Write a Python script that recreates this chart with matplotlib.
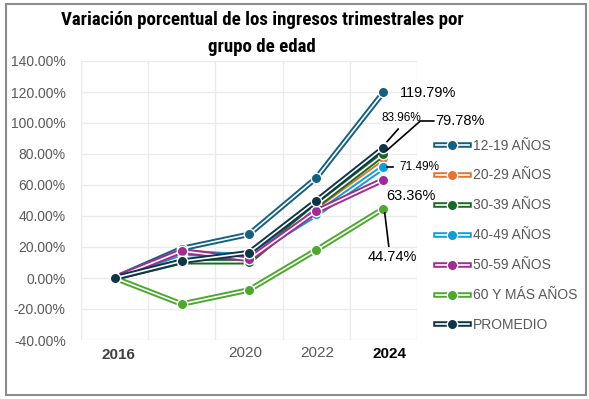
import matplotlib
matplotlib.use("Agg")
import matplotlib.pyplot as plt
from matplotlib.lines import Line2D
from matplotlib.legend_handler import HandlerTuple
from matplotlib.patches import Rectangle
import numpy as np

# valores (en %)
categorias = ["2016", "", "2020", "2022", "2024"]
series = ["12-19 AÑOS", "20-29 AÑOS", "30-39 AÑOS", "40-49 AÑOS",
          "50-59 AÑOS", "60 Y MÁS AÑOS", "PROMEDIO"]
v_12_19 = [0, 19.0, 28.2, 64.5, 119.79]
v_20_29 = [0, 17.0, 13.5, 46.0, 77.5]
v_30_39 = [0, 10.5, 10.5, 46.5, 79.78]
v_40_49 = [0, 16.0, 14.5, 41.0, 71.49]
v_50_59 = [0, 17.4, 12.0, 43.0, 63.36]
v_60_mas = [0, -16.8, -7.7, 18.0, 44.74]
v_prom = [0, 10.8, 16.3, 49.7, 83.96]
valores = [v_12_19, v_20_29, v_30_39, v_40_49, v_50_59, v_60_mas, v_prom]
colores = ["#156082", "#E97132", "#196B24", "#0F9ED5", "#A02B93", "#4EA72E", "#0E3548"]

fuente = ["Liberation Sans", "DejaVu Sans"]
fuente_titulo = ["Roboto Condensed", "Fira Sans Condensed", "Barlow Semi Condensed",
                 "PT Sans Narrow", "Archivo Narrow", "Liberation Sans", "DejaVu Sans"]

W, H = 589, 399
fig = plt.figure(figsize=(W / 100, H / 100), dpi=100)
ax = fig.add_axes([81 / W, 1 - 340 / H, (417 - 81) / W, (340 - 61) / H])

x = np.arange(len(categorias))
for i, (vals, c) in enumerate(zip(valores, colores)):
    z = 3 + i * 3
    ax.plot(x, vals, color=c, lw=4.0, solid_capstyle="round", zorder=z)
    ax.plot(x, vals, color="white", lw=1.2, zorder=z + 1)
    ax.plot(x, vals, ls="none", marker="o", ms=7.5, mfc=c, mec="white", mew=1.0, zorder=z + 2)

ax.set_xlim(-0.5, len(categorias) - 0.5)
ax.set_ylim(-40, 140)
ax.set_yticks(np.arange(-40, 141, 20))
ax.set_yticklabels(["{:.2f}%".format(t) for t in np.arange(-40, 141, 20)],
                   fontsize=10, color="#595959", family=fuente)
ax.tick_params(axis="y", length=0, pad=11)
ax.set_xticks([])
ax.set_xticks(np.arange(-0.5, len(categorias)), minor=True)
ax.tick_params(axis="x", which="minor", length=0)
ax.grid(True, axis="y", color="#EBEBEB", lw=1)
ax.grid(True, axis="x", which="minor", color="#EBEBEB", lw=1)
for s in ax.spines.values():
    s.set_visible(False)

# etiquetas del eje x (colocadas como en el original)
trans = ax.get_xaxis_transform()
ax.text(0.05, -0.055, categorias[0], transform=trans, ha="center", va="center",
        fontsize=11, fontweight="bold", color="#404040", family=fuente)
ax.text(1.94, -0.045, categorias[2], transform=trans, ha="center", va="center",
        fontsize=11, color="#595959", family=fuente)
ax.text(3.02, -0.045, categorias[3], transform=trans, ha="center", va="center",
        fontsize=11, color="#595959", family=fuente)
ax.text(4.09, -0.05, categorias[4], transform=trans, ha="center", va="center",
        fontsize=11, fontweight="bold", color="black", family=fuente)

# etiquetas de datos
lbl = dict(textcoords="figure pixels", family=fuente, color="black", va="center")
ax.annotate("{:.2f}%".format(v_12_19[4]), xy=(4, v_12_19[4]), xytext=(400, H - 93),
            fontsize=10.5, ha="left", **lbl)
ax.annotate("{:.2f}%".format(v_prom[4]), xy=(4, v_prom[4]), xytext=(381, H - 118),
            fontsize=8.5, ha="left", **lbl)
ax.plot([4.22, 4.055], [96.1, 88.0], color="black", lw=1.2, zorder=40)
ax.annotate("{:.2f}%".format(v_30_39[4]), xy=(4, v_30_39[4]), xytext=(435, H - 121),
            fontsize=10.5, ha="left", **lbl)
ax.plot([4.75, 4.55, 4.05], [101.3, 101.3, v_30_39[4] + 2.5], color="black", lw=1.2,
        zorder=40, clip_on=False)
ax.annotate("{:.2f}%".format(v_40_49[4]), xy=(4, v_40_49[4]), xytext=(399, H - 167),
            fontsize=8.5, ha="left", **lbl)
ax.plot([4.15, 4.05], [v_40_49[4], v_40_49[4]], color="black", lw=1.2, zorder=40)
ax.annotate("{:.2f}%".format(v_50_59[4]), xy=(4, v_50_59[4]), xytext=(386, H - 196),
            fontsize=10.5, ha="left", **lbl)
ax.annotate("{:.2f}%".format(v_60_mas[4]), xy=(4, v_60_mas[4]), xytext=(368, H - 257),
            fontsize=10.5, ha="left", **lbl)
ax.plot([4.08, 4.02], [20.5, 42.0], color="black", lw=1.2, zorder=40)

# leyenda con linea doble
handles = []
for c in colores:
    handles.append((Line2D([], [], color=c, lw=4.0),
                    Line2D([], [], color="white", lw=1.2),
                    Line2D([], [], ls="none", marker="o", ms=7.5, mfc=c, mec="white", mew=1.0)))
leg = fig.legend(handles, series, handler_map={tuple: HandlerTuple(ndivide=1)},
                 loc="upper left", bbox_to_anchor=(423 / W, 1 - 126 / H), frameon=False,
                 prop={"family": fuente, "size": 10}, labelcolor="#595959",
                 handlelength=2.4, handletextpad=0.3, labelspacing=1.15)

fig.text(262 / W, 1 - 20 / H, "Variación porcentual de los ingresos trimestrales por",
         ha="center", va="center", fontsize=13.6, fontweight="bold", family=fuente_titulo)
fig.text(262 / W, 1 - 47 / H, "grupo de edad", ha="center", va="center", fontsize=13.6,
         fontweight="bold", family=fuente_titulo)

fig.patches.append(Rectangle((6 / W, 4 / H), 580 / W, 391 / H, transform=fig.transFigure,
                             fill=False, edgecolor="#8C8C8C", lw=1.5))

fig.savefig("out.png", dpi=100)
